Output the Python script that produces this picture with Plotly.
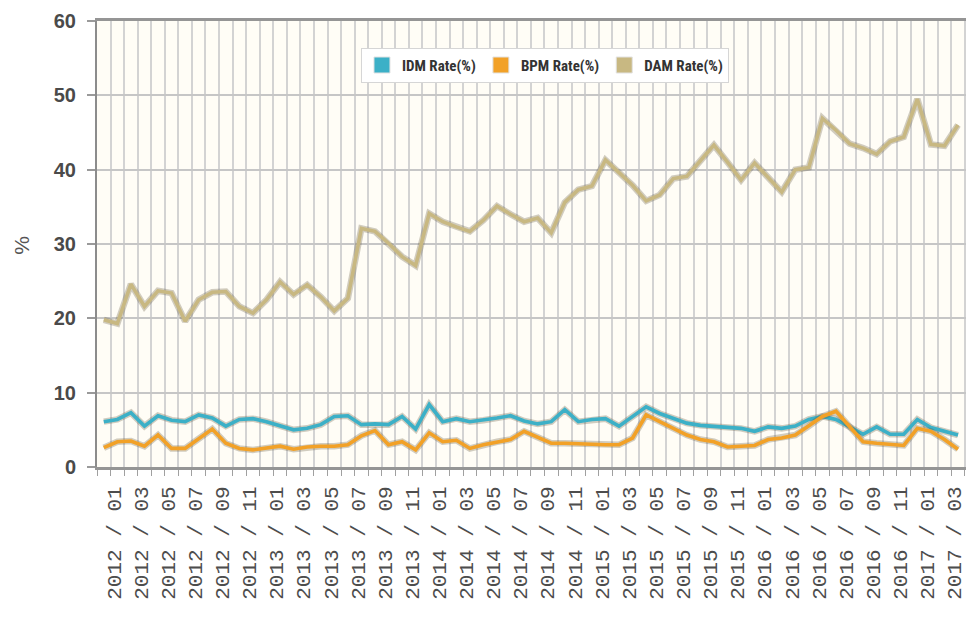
import plotly.graph_objects as go

months = [
    "2012 / 01", "2012 / 02", "2012 / 03", "2012 / 04", "2012 / 05", "2012 / 06",
    "2012 / 07", "2012 / 08", "2012 / 09", "2012 / 10", "2012 / 11", "2012 / 12",
    "2013 / 01", "2013 / 02", "2013 / 03", "2013 / 04", "2013 / 05", "2013 / 06",
    "2013 / 07", "2013 / 08", "2013 / 09", "2013 / 10", "2013 / 11", "2013 / 12",
    "2014 / 01", "2014 / 02", "2014 / 03", "2014 / 04", "2014 / 05", "2014 / 06",
    "2014 / 07", "2014 / 08", "2014 / 09", "2014 / 10", "2014 / 11", "2014 / 12",
    "2015 / 01", "2015 / 02", "2015 / 03", "2015 / 04", "2015 / 05", "2015 / 06",
    "2015 / 07", "2015 / 08", "2015 / 09", "2015 / 10", "2015 / 11", "2015 / 12",
    "2016 / 01", "2016 / 02", "2016 / 03", "2016 / 04", "2016 / 05", "2016 / 06",
    "2016 / 07", "2016 / 08", "2016 / 09", "2016 / 10", "2016 / 11", "2016 / 12",
    "2017 / 01", "2017 / 02", "2017 / 03", "2017 / 04",
]

idm_rate = [
    6.1, 6.4, 7.3, 5.5, 6.9, 6.3, 6.1, 7.0, 6.6, 5.5, 6.4, 6.5,
    6.1, 5.5, 5.0, 5.2, 5.7, 6.8, 6.9, 5.7, 5.8, 5.7, 6.8, 5.1,
    8.4, 6.1, 6.5, 6.1, 6.3, 6.6, 6.9, 6.2, 5.8, 6.1, 7.7, 6.1,
    6.4, 6.5, 5.5, 6.8, 8.1, 7.2, 6.5, 5.9, 5.6, 5.5, 5.4, 5.2,
    4.8, 5.4, 5.2, 5.5, 6.4, 6.8, 6.4, 5.4, 4.4, 5.4, 4.4, 4.4,
    6.4, 5.3, 4.8, 4.3,
]

bpm_rate = [
    2.6, 3.4, 3.5, 2.8, 4.3, 2.5, 2.5, 3.8, 5.1, 3.2, 2.5, 2.3,
    2.5, 2.8, 2.4, 2.7, 2.8, 2.8, 3.0, 4.2, 4.9, 3.0, 3.4, 2.3,
    4.6, 3.4, 3.6, 2.5, 3.0, 3.4, 3.7, 4.8, 4.0, 3.2, 3.2, 3.1,
    3.0, 3.0, 3.0, 3.9, 7.0, 6.1, 5.2, 4.3, 3.7, 3.4, 2.7, 2.8,
    2.9, 3.7, 3.9, 4.3, 5.5, 6.8, 7.5, 5.4, 3.4, 3.2, 3.0, 2.9,
    5.2, 4.8, 3.7, 2.4,
]

dam_rate = [
    19.8, 19.3, 24.6, 21.6, 23.7, 23.4, 19.6, 22.5, 23.5, 23.6, 21.6, 20.7,
    22.5, 24.9, 23.2, 24.5, 22.9, 21.0, 22.7, 32.1, 31.7, 30.1, 28.3, 27.1,
    34.1, 33.0, 32.3, 31.7, 33.2, 35.1, 34.0, 33.0, 33.5, 31.5, 35.6, 37.3,
    37.8, 41.3, 39.6, 37.9, 35.8, 36.6, 38.8, 39.1, 41.2, 43.3, 41.0, 38.6,
    40.9, 39.0, 37.0, 40.0, 40.3, 46.9, 45.3, 43.5, 42.9, 42.1, 43.8, 44.4,
    49.5, 43.4, 43.2, 46.0,
]

series = [
    ("IDM Rate(%)", idm_rate, "#3CB0C7"),
    ("BPM Rate(%)", bpm_rate, "#F2A127"),
    ("DAM Rate(%)", dam_rate, "#C8B882"),
]

x = list(range(len(months)))

fig = go.Figure()

# draw order: DAM, IDM, BPM (orange on top)
for name, vals, col in [series[2], series[0], series[1]]:
    fig.add_trace(go.Scatter(
        x=x, y=vals, mode="lines", showlegend=False, hoverinfo="skip",
        line=dict(color="rgba(90,80,50,0.28)", width=6.5),
    ))
    fig.add_trace(go.Scatter(
        x=x, y=vals, mode="lines", name=name, showlegend=False,
        line=dict(color=col, width=3.6),
    ))

# legend entries with square swatches
for name, vals, col in series:
    fig.add_trace(go.Scatter(
        x=[None], y=[None], mode="markers", name=name,
        marker=dict(symbol="square", size=18, color=col,
                    line=dict(color="#e2e2e2", width=1)),
    ))

fig.add_annotation(
    text="%", xref="paper", yref="paper", x=-0.0855, y=0.496,
    xanchor="center", yanchor="middle",
    showarrow=False, textangle=-90,
    font=dict(family="Liberation Sans", size=21, color="#555555"),
)

# page body has an 8px default margin: the figure is sized so it ends at the window edge
fig.update_layout(
    width=966, height=611,
    margin=dict(l=89, r=0, t=13, b=152),
    paper_bgcolor="white",
    plot_bgcolor="#FFFDF6",
    showlegend=True,
    legend=dict(
        orientation="h", x=0.301, y=0.94, xanchor="left", yanchor="top",
        bgcolor="white", bordercolor="#d6d6d6", borderwidth=1,
        font=dict(family="Liberation Sans Narrow, Roboto Condensed, Liberation Sans",
                  size=15, color="#333333", weight="bold"),
        itemwidth=30, tracegroupgap=0,
    ),
    xaxis=dict(
        range=[-0.5, 64.18],
        tickvals=x[::2],
        ticktext=months[::2],
        tickangle=-90,
        ticks="",
        ticklabelshift=10,
        ticklabelstandoff=8,
        tickfont=dict(family="Liberation Mono", size=21, color="#4d4d4d"),
        showgrid=False,
        zeroline=False,
        showline=True, linecolor="#959595", linewidth=3, mirror=True,
        minor=dict(tick0=-0.5, dtick=1, showgrid=True, gridcolor="#d3d3d3",
                   gridwidth=1.5, ticks="outside", ticklen=6, tickcolor="#a0a0a0"),
    ),
    yaxis=dict(
        range=[0, 60],
        dtick=10,
        ticks="outside", ticklen=8, tickcolor="#9a9a9a", tickwidth=1.5,
        ticklabelstandoff=7,
        tickfont=dict(family="Liberation Sans", size=20, color="#4a4a4a", weight="bold"),
        showgrid=True, gridcolor="#c6c6c6", gridwidth=1.8,
        zeroline=False,
        showline=True, linecolor="#8c8c8c", linewidth=2,
    ),
)

fig.write_html("out.html")
